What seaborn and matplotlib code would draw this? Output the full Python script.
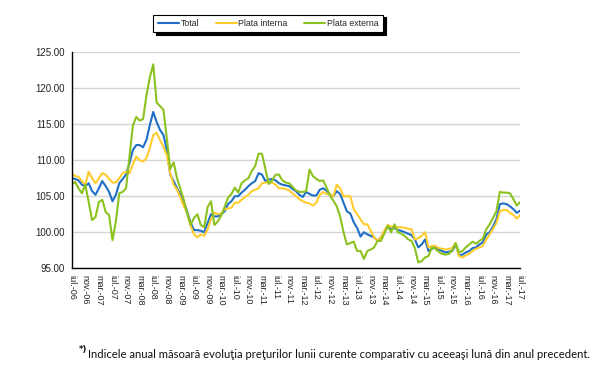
import numpy as np
import pandas as pd
import matplotlib.pyplot as plt
import seaborn as sns

# Indicele anual al preturilor, lunar, iul.-06 ... iul.-17
total = [107.5, 107.4, 107.2, 106.6, 106.4, 106.8, 105.7, 105.2, 106.1, 107.1, 106.4, 105.6,
         104.3, 105.2, 106.8, 107.4, 108.0, 109.6, 111.4, 112.1, 112.1, 111.8, 112.8, 114.9,
         116.7, 115.3, 114.2, 113.5, 111.4, 108.0, 107.1, 106.1, 105.2, 104.1, 102.9, 101.3,
         100.3, 100.3, 100.2, 100.0, 101.3, 102.5, 102.2, 102.2, 102.5, 102.9, 103.9, 104.3,
         105.0, 105.0, 105.5, 105.9, 106.4, 106.8, 107.1, 108.2, 108.0, 107.1, 107.3, 107.4,
         107.2, 106.8, 106.6, 106.5, 106.4, 106.0, 105.7, 105.2, 104.9, 105.6, 105.3, 105.1,
         105.1, 105.9, 106.1, 105.8, 105.2, 105.0, 105.7, 105.3, 104.1, 102.9, 102.6, 101.4,
         100.6, 99.4, 100.0, 99.7, 99.5, 99.3, 98.8, 99.3, 100.0, 100.9, 100.4, 100.6,
         100.3, 100.2, 100.0, 99.8, 99.6, 99.0, 97.9, 98.3, 99.0, 97.4, 97.7, 98.0,
         97.6, 97.4, 97.2, 97.3, 97.4, 98.3, 96.8, 96.9, 97.2, 97.4, 97.8, 97.9,
         98.3, 98.6, 99.7, 100.0, 100.8, 101.8, 103.9, 104.0, 103.9, 103.6, 103.2, 102.7,
         103.0]

plata_interna = [108.2, 107.8, 107.7, 107.1, 106.6, 108.4, 107.5, 106.8, 107.5, 108.2, 108.0, 107.4,
                 106.9, 106.9, 107.5, 108.2, 108.4, 108.2, 109.4, 110.5, 110.0, 109.8, 110.3, 111.7,
                 113.5, 113.8, 112.8, 111.9, 110.7, 108.2, 106.6, 105.9, 104.8, 103.6, 102.7, 100.9,
                 99.7, 99.3, 99.7, 99.5, 100.4, 101.8, 102.7, 102.5, 102.6, 103.2, 103.3, 103.4,
                 104.1, 104.1, 104.5, 104.9, 105.2, 105.7, 105.9, 106.1, 106.8, 106.9, 106.9, 106.9,
                 106.6, 106.1, 106.1, 106.0, 105.8, 105.4, 105.0, 104.6, 104.3, 104.1, 104.0, 103.7,
                 104.1, 105.2, 105.6, 105.3, 105.3, 105.0, 106.6, 106.1, 105.0, 105.0, 105.0, 103.2,
                 102.5, 101.8, 101.1, 101.1, 100.2, 99.3, 98.8, 99.3, 100.2, 101.0, 100.8, 100.7,
                 100.7, 100.7, 100.6, 100.5, 100.4, 99.0, 99.2, 99.5, 100.0, 97.9, 98.1, 98.1,
                 97.8, 97.7, 97.6, 97.7, 97.8, 98.5, 96.7, 96.5, 96.8, 97.0, 97.4, 97.7,
                 97.9, 98.1, 99.0, 99.7, 100.5, 101.3, 102.9, 103.1, 103.1, 102.7, 102.4, 101.9,
                 102.4]

plata_externa = [106.6, 107.0, 106.1, 105.4, 106.6, 104.2, 101.7, 102.1, 104.2, 104.5, 102.8, 102.4,
                 98.9, 101.5, 105.4, 105.6, 106.1, 110.5, 114.8, 116.0, 115.5, 115.7, 119.0, 121.5,
                 123.3, 118.0, 117.5, 117.0, 113.0, 108.8, 109.7, 107.5, 106.0, 104.5, 102.5, 101.0,
                 102.0, 102.5, 101.0, 100.7, 103.5, 104.3, 101.0, 101.5, 102.3, 103.5, 104.8, 105.3,
                 106.2, 105.5, 106.8, 107.2, 107.5, 108.5, 109.2, 110.9, 110.9, 108.8, 106.7, 107.2,
                 108.0, 108.0, 107.2, 106.9, 106.8, 106.3, 105.8, 105.6, 105.6, 105.7, 108.7, 107.8,
                 107.4, 107.1, 107.2, 106.2, 105.1, 104.4, 103.6, 102.2, 100.0, 98.3, 98.5, 98.7,
                 97.4, 97.4, 96.3, 97.4, 97.6, 97.9, 98.8, 98.8, 99.8, 100.9, 100.0, 101.1,
                 100.0, 99.8, 99.5, 99.0, 98.8, 97.8, 95.8, 96.0, 96.5, 96.7, 97.9, 97.7,
                 97.3, 97.0, 96.9, 97.0, 97.5, 98.5, 97.2, 97.4, 97.9, 98.3, 98.7, 98.4,
                 98.8, 99.1, 100.4, 101.1, 102.0, 102.9, 105.6, 105.5, 105.5, 105.4, 104.6, 103.7,
                 104.2]

tick_labels = ['iul.-06', 'nov.-06', 'mar.-07', 'iul.-07', 'nov.-07', 'mar.-08', 'iul.-08',
               'nov.-08', 'mar.-09', 'iul.-09', 'nov.-09', 'mar.-10', 'iul.-10', 'nov.-10',
               'mar.-11', 'iul.-11', 'nov.-11', 'mar.-12', 'iul.-12', 'nov.-12', 'mar.-13',
               'iul.-13', 'nov.-13', 'mar.-14', 'iul.-14', 'nov.-14', 'mar.-15', 'iul.-15',
               'nov.-15', 'mar.-16', 'iul.-16', 'nov.-16', 'mar.-17', 'iul.-17']

serii = ['Total', 'Plata interna', 'Plata externa']
culori = ['#1f6fc6', '#ffcc2e', '#8cc21f']

n = len(total)
luna = np.arange(n)
data = pd.DataFrame({
    'luna': np.tile(luna, 3),
    'indice': total + plata_interna + plata_externa,
    'serie': np.repeat(serii, n),
})

sns.set_style('white')
plt.rcParams['font.family'] = ['Liberation Sans', 'DejaVu Sans']

fig = plt.figure(figsize=(6, 3.67), dpi=100)
ax = fig.add_axes([0.1195, 0.269, 0.7475, 0.589])

sns.lineplot(data=data, x='luna', y='indice', hue='serie', hue_order=serii,
             palette=culori, linewidth=1.5, ax=ax)

ax.set_xlim(0, n - 1)
ax.set_ylim(95, 125)
ax.set_yticks(np.arange(95, 126, 5))
ax.set_yticklabels([f'{v:.2f}' for v in np.arange(95, 126, 5)], fontsize=7, color='#222222')
ax.set_xticks(np.arange(0, n, 4))
ax.set_xticklabels(tick_labels, rotation=-90, fontsize=6.5, color='#222222',
                   ha='center', va='top')
ax.set_xlabel('')
ax.set_ylabel('')

ax.yaxis.grid(True, color='#d4d4d4', linewidth=1)
ax.set_axisbelow(True)
for s in ['top', 'right']:
    ax.spines[s].set_visible(False)
for s in ['left', 'bottom']:
    ax.spines[s].set_color('black')
    ax.spines[s].set_linewidth(1)
ax.tick_params(axis='both', direction='out', length=3, width=0.8, color='black', pad=2)

ax.legend(loc='center', bbox_to_anchor=(0.447, 0.936), bbox_transform=fig.transFigure,
          ncol=3, frameon=True, fancybox=False, edgecolor='black', fontsize=6.3,
          shadow={'color': 'black', 'alpha': 1}, handlelength=2.4, handletextpad=0.2,
          columnspacing=1.9, borderpad=0.5)
ax.get_legend().get_frame().set_linewidth(0.8)

# nota de subsol
fig.text(0.131, 0.047, '*)', fontsize=6, family=['DejaVu Sans'], va='center',
         fontweight='bold', color='#111111')
fig.text(0.147, 0.033, 'Indicele anual măsoară evoluţia preţurilor lunii curente comparativ '
         'cu aceeaşi lună din anul precedent.', fontsize=8.1,
         family=['Lato', 'DejaVu Sans'], va='center', color='#111111')

fig.savefig('out.png', dpi=100)
